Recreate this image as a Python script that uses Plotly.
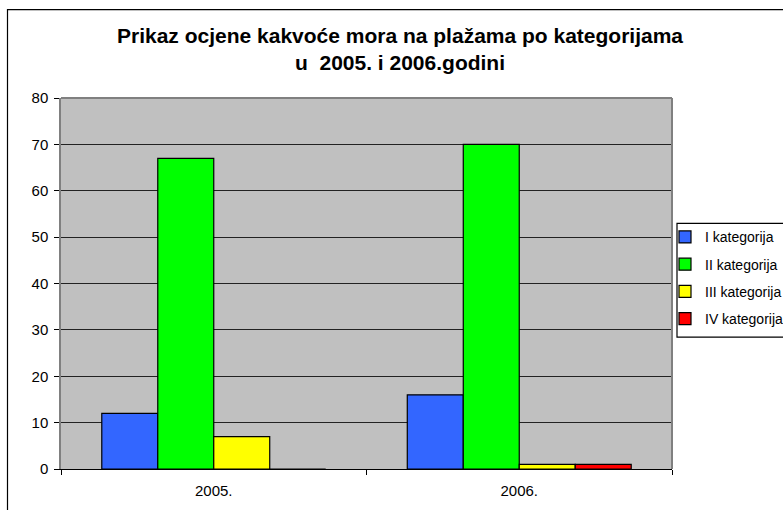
import plotly.graph_objects as go

years = ["2005.", "2006."]
series_names = ["I kategorija", "II kategorija", "III kategorija", "IV kategorija"]
cat_I = [12, 16]
cat_II = [67, 70]
cat_III = [7, 1]
cat_IV = [0, 1]
colors = ["#3366FF", "#00FF00", "#FFFF00", "#FF0000"]
y_ticks = [0, 10, 20, 30, 40, 50, 60, 70, 80]

W, H = 783, 510
L, R, T, B = 61, 672, 97.5, 469

fig = go.Figure()
for i, (name, vals) in enumerate(zip(series_names, [cat_I, cat_II, cat_III, cat_IV])):
    fig.add_trace(go.Bar(
        x=years, y=vals, name=name, legendgroup=name,
        marker=dict(color=colors[i], line=dict(color="black", width=1.2)),
    ))

pw = (R - L)
ph = (B - T)
def px_x(x):
    return (x - L) / pw
def px_y(y):
    return (B - y) / ph

FONT = "Liberation Sans, Arial, sans-serif"

fig.update_layout(
    width=W, height=H,
    margin=dict(l=L, r=W - R, t=T, b=H - B, pad=0, autoexpand=False),
    paper_bgcolor="white",
    plot_bgcolor="#C0C0C0",
    barmode="group",
    bargap=0.267,
    bargroupgap=0,
    font=dict(family=FONT, color="black", size=15),
    title=dict(
        text="<b>Prikaz ocjene kakvoće mora na plažama po kategorijama<br>u  2005. i 2006.godini</b>",
        x=400 / W, xref="container", xanchor="center",
        y=1 - 43 / H, yref="container", yanchor="top",
        font=dict(size=21, family=FONT),
    ),
    showlegend=True,
    legend=dict(
        x=px_x(665), y=px_y(221), xanchor="left", yanchor="top",
        borderwidth=0, bgcolor="rgba(0,0,0,0)",
        font=dict(size=14, family=FONT), tracegroupgap=6,
        traceorder="grouped",
        itemwidth=30,
    ),
    xaxis=dict(
        showline=True, linecolor="black", linewidth=1,
        ticks="outside", tickson="boundaries", ticklen=5, tickcolor="black",
        showgrid=False, zeroline=False, fixedrange=True,
        tickfont=dict(size=15), ticklabelstandoff=8,
    ),
    yaxis=dict(
        range=[0, 80], tickvals=y_ticks, ticktext=[str(v) for v in y_ticks],
        showline=True, linecolor="#808080", linewidth=1.5,
        ticks="outside", ticklen=5, tickcolor="black",
        showgrid=True, gridcolor="#222222", gridwidth=1,
        zeroline=False, fixedrange=True,
        tickfont=dict(size=15), ticklabelstandoff=3,
    ),
    shapes=[
        # outer chart-area border (extends off the right and bottom edges)
        dict(type="rect", xref="paper", yref="paper",
             x0=px_x(7.5), x1=px_x(800), y0=px_y(530), y1=px_y(9),
             line=dict(color="black", width=1.2), fillcolor="rgba(0,0,0,0)", layer="below"),
        # plot area top and right border (gray)
        dict(type="line", xref="paper", yref="paper", x0=0, x1=1, y0=1, y1=1,
             line=dict(color="#808080", width=2)),
        dict(type="line", xref="paper", yref="paper", x0=1, x1=1, y0=0, y1=1,
             line=dict(color="#808080", width=2)),
        # legend box
        dict(type="rect", xref="paper", yref="paper",
             x0=px_x(677), x1=px_x(800), y0=px_y(337), y1=px_y(223),
             line=dict(color="black", width=1.2), fillcolor="white", layer="above"),
    ],
)

fig.write_html(
    "out.html",
    config={"displayModeBar": False},
    post_script="document.body.style.margin='0';document.body.style.overflow='hidden';",
)
